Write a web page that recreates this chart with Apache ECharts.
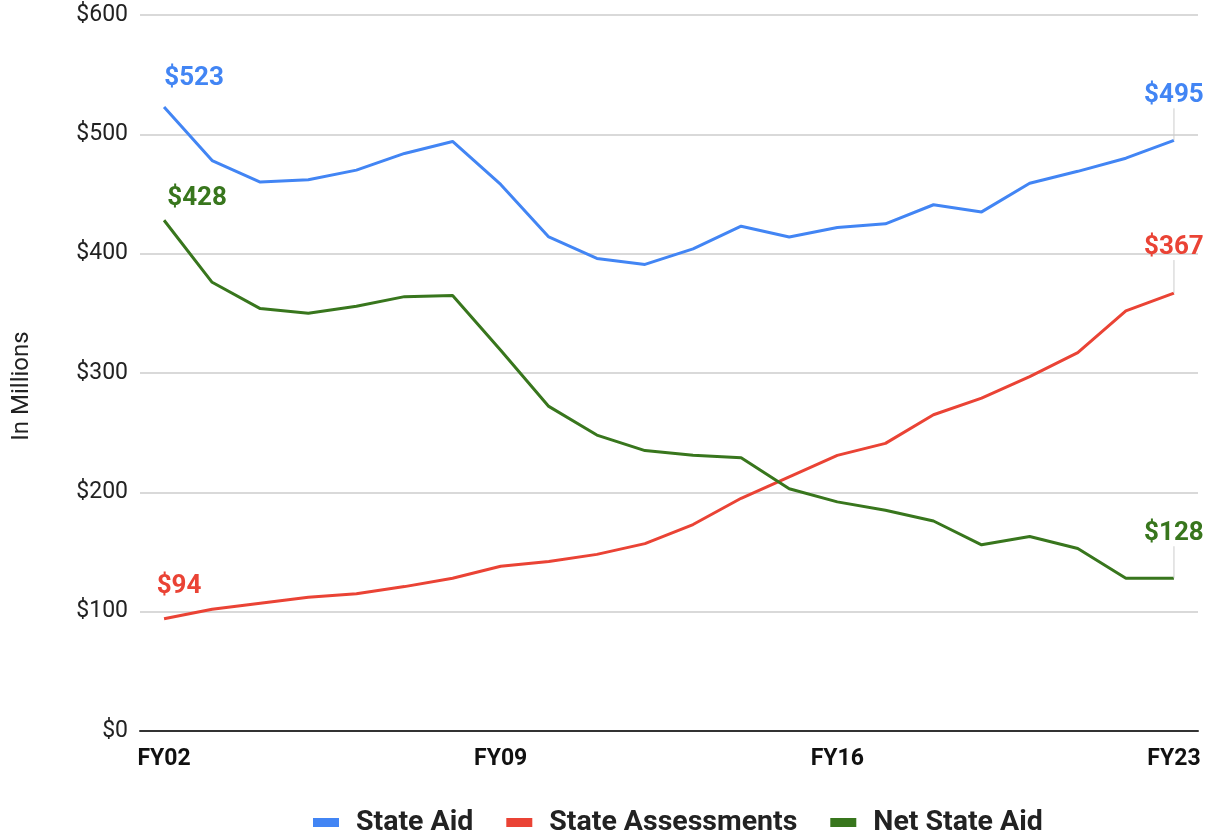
<!DOCTYPE html>
<html><head><meta charset="utf-8">
<script src="https://cdn.jsdelivr.net/npm/echarts@6/dist/echarts.min.js"></script>
<style>html,body{margin:0;padding:0;background:#fff}#c{width:1208px;height:834px}</style>
</head><body><div id="c"></div>
<script>
const categories = ['FY02','FY03','FY04','FY05','FY06','FY07','FY08','FY09','FY10','FY11','FY12','FY13','FY14','FY15','FY16','FY17','FY18','FY19','FY20','FY21','FY22','FY23'];
const stateAid = [523,478,460,462,470,484,494,458,414,396,391,404,423,414,422,425,441,435,459,469,480,495];
const stateAssessments = [94,102,107,112,115,121,128,138,142,148,157,173,195,213,231,241,265,279,297,317,352,367];
const netStateAid = [428,376,354,350,356,364,365,319,272,248,235,231,229,203,192,185,176,156,163,153,128,128];
const yTicks = [0,100,200,300,400,500,600];

const font = 'Roboto, "Noto Sans", sans-serif';
function mk(name, data, color) {
  return {
    name, type: 'line', data, symbol: 'circle', symbolSize: 0.01, showSymbol: true,
    lineStyle: {width: 3, color}, itemStyle: {color},
    label: {show: false},
    labelLine: {show: true, lineStyle: {color: '#cccccc', width: 1}},
    emphasis: {disabled: true},
  };
}
const series = [
  mk('State Aid', stateAid, '#4285f4'),
  mk('State Assessments', stateAssessments, '#ea4335'),
  mk('Net State Aid', netStateAid, '#38761d')
];
const firstOff = [[30,-28],[15,-32],[33,-22]];
const lastDy = [-45,-46,-45];
series.forEach((s, i) => {
  const n = s.data.length;
  const lab = {show: true, position: 'inside', formatter: '${c}', color: s.lineStyle.color, fontFamily: font, fontWeight: 'bold', fontSize: 26};
  s.data = s.data.map((v, j) => {
    if (j === 0) return {value: v, label: lab, labelLine: {show: false}};
    if (j === n - 1) return {value: v, label: lab};
    return v;
  });
  s.labelLayout = function (p) {
    if (p.dataIndex === n - 1) return {dx: 0, dy: lastDy[i]};
    if (p.dataIndex === 0) return {dx: firstOff[i][0], dy: firstOff[i][1]};
    return {};
  };
});

const chart = echarts.init(document.getElementById('c'), null, {renderer: 'canvas'});
chart.setOption({
  animation: false,
  grid: {left: 140, right: 10, top: 15, bottom: 103, containLabel: false},
  legend: {
    top: 803, left: 308, itemWidth: 26, itemHeight: 9, itemGap: 33,
    icon: 'rect',
    data: ['State Aid','State Assessments','Net State Aid'],
    textStyle: {fontFamily: font, fontWeight: 'bold', fontSize: 28.5, color: '#222', padding: [0,0,0,12]}
  },
  xAxis: {
    type: 'category', data: categories, boundaryGap: true,
    axisLine: {lineStyle: {color: '#333', width: 2}},
    axisTick: {show: false},
    axisLabel: {interval: 6, color: '#111', fontFamily: font, fontWeight: 'bold', fontSize: 23, margin: 17}
  },
  yAxis: {
    type: 'value', min: 0, max: 600, interval: 100,
    name: 'In Millions', nameLocation: 'middle', nameGap: 106,
    nameTextStyle: {fontFamily: font, fontSize: 24, color: '#222', padding: [0, 26, 0, 0]},
    axisLine: {show: false}, axisTick: {show: false},
    splitLine: {lineStyle: {color: '#cccccc', width: 1.5}},
    axisLabel: {color: '#222', fontFamily: font, fontSize: 23, margin: 12,
      formatter: v => yTicks.includes(v) ? '$' + v : ''}
  },
  series
});
</script></body></html>
